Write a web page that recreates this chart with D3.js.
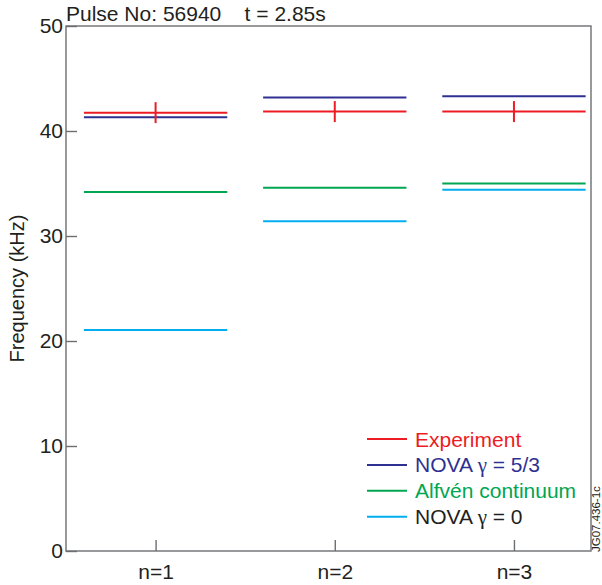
<!DOCTYPE html>
<html>
<head>
<meta charset="utf-8">
<script src="https://cdn.jsdelivr.net/npm/d3@7"></script>
<style>
  body { margin: 0; background: #fff; }
  svg { display: block; font-family: "Liberation Sans", Arial, Helvetica, sans-serif; }
</style>
</head>
<body>
<svg id="chart" width="602" height="585"></svg>
<script>
// Toroidal mode numbers
const modes = [1, 2, 3];
const modeLabels = ["n=1", "n=2", "n=3"];

// Frequencies (kHz) per mode
const experiment = [41.75, 41.85, 41.85];
const experimentErr = [1.0, 1.0, 1.0];
const novaGamma53 = [41.3, 43.2, 43.3];
const alfvenContinuum = [34.2, 34.6, 35.0];
const novaGamma0 = [21.05, 31.4, 34.4];

const yTicks = [0, 10, 20, 30, 40, 50];

// Legend entries: [text before gamma, gamma symbol, text after]
const seriesNames = [
  ["Experiment", "", ""],
  ["NOVA ", "\u03b3", " = 5/3"],
  ["Alfv\u00e9n continuum", "", ""],
  ["NOVA ", "\u03b3", " = 0"]
];
const seriesColors = ["#ed1c24", "#2e3192", "#00a651", "#00aeef"];
const legendTextColors = ["#ed1c24", "#2e3192", "#00a651", "#231f20"];

const svg = d3.select("#chart");
const frameColor = "#6d6e71";

const x = d3.scaleLinear().domain([0.5, 3.43]).range([66, 591]);
const y = d3.scaleLinear().domain([0, 50]).range([551, 26]);
const halfWidth = 0.4;

// Plot frame
svg.append("rect")
  .attr("x", x(0.5)).attr("y", y(50))
  .attr("width", x(3.43) - x(0.5)).attr("height", y(0) - y(50))
  .attr("fill", "none").attr("stroke", frameColor).attr("stroke-width", 1.4);

// Y axis with inward ticks
const yAxis = svg.append("g")
  .attr("transform", `translate(${x(0.5)},0)`)
  .call(d3.axisLeft(y).tickValues(yTicks).tickSize(-11).tickPadding(16).tickFormat(d3.format("d")));
yAxis.select(".domain").remove();
yAxis.selectAll(".tick line").attr("stroke", frameColor).attr("stroke-width", 1.4);
yAxis.selectAll(".tick text")
  .attr("font-size", 21).attr("fill", "#231f20")
  .attr("font-family", "'Liberation Sans', Arial, sans-serif")
  .attr("x", -3);

// X axis with inward ticks
const xAxis = svg.append("g")
  .attr("transform", `translate(0,${y(0)})`)
  .call(d3.axisBottom(x).tickValues(modes).tickSize(-11).tickPadding(0)
    .tickFormat((d, i) => modeLabels[i]));
xAxis.select(".domain").remove();
xAxis.selectAll(".tick line").attr("stroke", frameColor).attr("stroke-width", 1.4);
xAxis.selectAll(".tick text")
  .attr("font-size", 21).attr("fill", "#231f20")
  .attr("font-family", "'Liberation Sans', Arial, sans-serif")
  .attr("dy", null).attr("y", 28);

// Axis title
svg.append("text")
  .attr("transform", `translate(24,${(y(0) + y(50)) / 2}) rotate(-90)`)
  .attr("text-anchor", "middle")
  .attr("font-size", 20).attr("fill", "#231f20")
  .text("Frequency (kHz)");

// Header
svg.append("text")
  .attr("x", 66).attr("y", 21)
  .attr("font-size", 21).attr("fill", "#231f20")
  .attr("xml:space", "preserve")
  .text("Pulse No: 56940    t = 2.85s");

// Horizontal frequency levels
const series = [experiment, novaGamma53, alfvenContinuum, novaGamma0];
const drawOrder = [3, 2, 1, 0];
drawOrder.forEach(si => {
  svg.append("g").selectAll("line")
    .data(modes.map((m, i) => ({ m, v: series[si][i] })))
    .join("line")
    .attr("x1", d => x(d.m - halfWidth))
    .attr("x2", d => x(d.m + halfWidth))
    .attr("y1", d => y(d.v)).attr("y2", d => y(d.v))
    .attr("stroke", seriesColors[si]).attr("stroke-width", 2);
});

// Experimental error bars
svg.append("g").selectAll("line")
  .data(modes.map((m, i) => ({ m, v: experiment[i], e: experimentErr[i] })))
  .join("line")
  .attr("x1", d => x(d.m)).attr("x2", d => x(d.m))
  .attr("y1", d => y(d.v + d.e)).attr("y2", d => y(d.v - d.e))
  .attr("stroke", seriesColors[0]).attr("stroke-width", 2);

// Legend
const legend = svg.append("g").attr("transform", "translate(367,439)");
seriesNames.forEach((parts, i) => {
  const row = legend.append("g").attr("transform", `translate(0,${i * 25.9})`);
  row.append("line")
    .attr("x1", 0).attr("x2", 40).attr("y1", 0).attr("y2", 0)
    .attr("stroke", seriesColors[i]).attr("stroke-width", 2);
  const t = row.append("text")
    .attr("x", 48).attr("y", 7.5)
    .attr("font-size", 21).attr("fill", legendTextColors[i])
    .attr("xml:space", "preserve");
  t.append("tspan").text(parts[0]);
  if (parts[1]) {
    t.append("tspan").attr("font-family", "'Liberation Serif', 'DejaVu Serif', serif")
      .attr("font-size", 21).text(parts[1]);
    t.append("tspan").text(parts[2]);
  }
});

// Figure reference code
svg.append("text")
  .attr("transform", "translate(600,552) rotate(-90)")
  .attr("font-size", 11.5).attr("fill", "#231f20")
  .text("JG07.436-1c");
</script>
</body>
</html>
